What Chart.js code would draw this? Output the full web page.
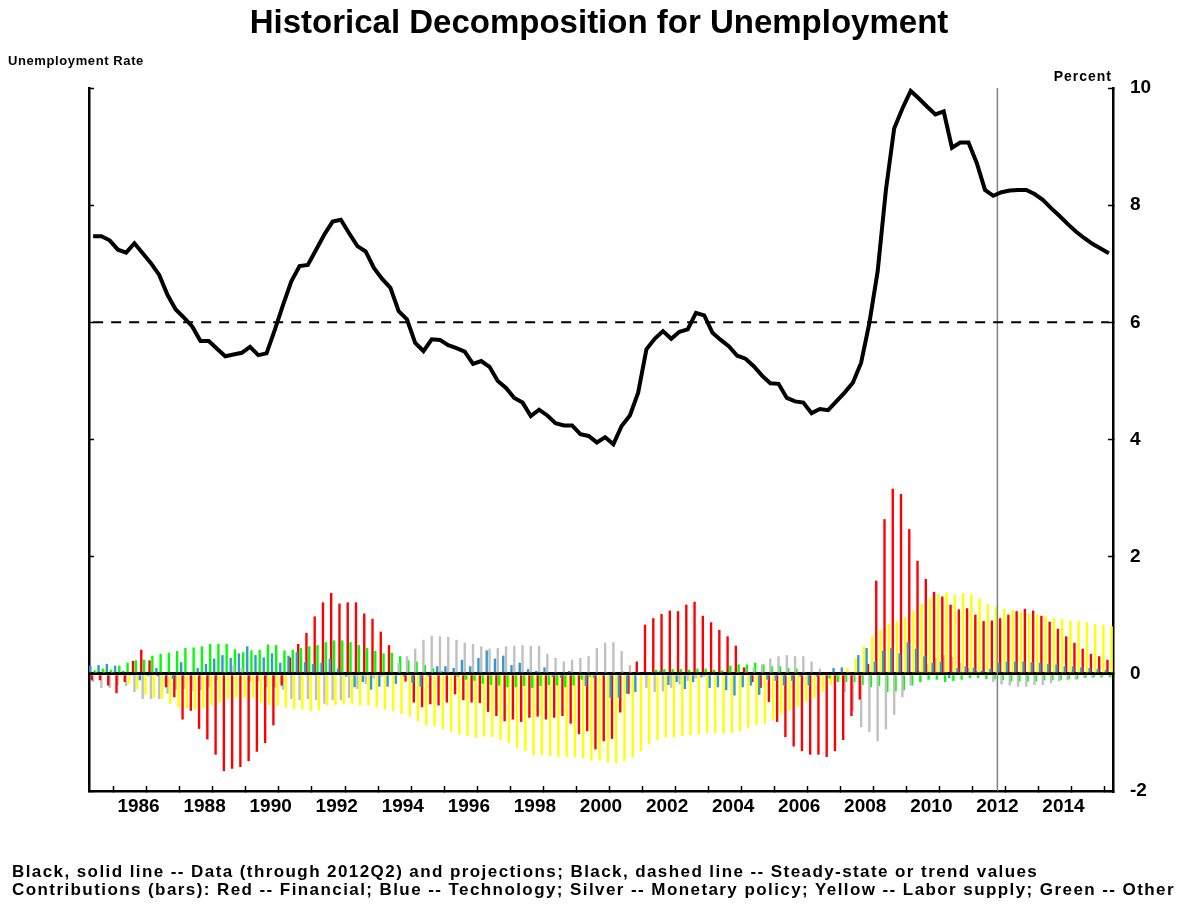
<!DOCTYPE html>
<html>
<head>
<meta charset="utf-8">
<title>Historical Decomposition for Unemployment</title>
<script src="https://cdn.jsdelivr.net/npm/chart.js@4.4.1/dist/chart.umd.min.js"></script>
<style>
  body { margin: 0; background: #fff; }
  #wrap { position: relative; width: 1190px; height: 904px; font-family: "Liberation Sans", Arial, sans-serif; font-weight: bold; color: #000; }
  .note { position: absolute; white-space: nowrap; line-height: 1; }
</style>
</head>
<body>
<div id="wrap">
  <canvas id="chart" width="1190" height="904"></canvas>
  <div class="note" style="left:8px; top:54px; font-size:13px; letter-spacing:0.6px;">Unemployment Rate</div>
  <div class="note" style="right:78px; top:69px; font-size:14px; letter-spacing:1px;">Percent</div>
  <div class="note" style="left:12px; top:863px; font-size:17px; letter-spacing:1.42px;">Black, solid line -- Data (through 2012Q2) and projections; Black, dashed line -- Steady-state or trend values</div>
  <div class="note" style="left:12px; top:881px; font-size:17px; letter-spacing:1.42px;">Contributions (bars): Red -- Financial; Blue -- Technology; Silver -- Monetary policy; Yellow -- Labor supply; Green -- Other</div>
</div>
<script>
// quarterly, 1985Q1 .. 2015Q4
const firstYear = 1985;
const lastYear = 2015;
const dataEnd = '2012Q2';
const steadyState = 6.0;
const yTicks = [-2, 0, 2, 4, 6, 8, 10];

// unemployment rate, data + projection
const unemployment = [
  7.47, 7.47, 7.40, 7.24, 7.19, 7.35, 7.18, 7.01, 6.81, 6.47,
  6.22, 6.08, 5.93, 5.68, 5.68, 5.55, 5.42, 5.45, 5.48, 5.58,
  5.44, 5.47, 5.87, 6.30, 6.70, 6.96, 6.98, 7.24, 7.50, 7.72,
  7.75, 7.52, 7.30, 7.21, 6.93, 6.74, 6.59, 6.19, 6.05, 5.65,
  5.51, 5.71, 5.70, 5.61, 5.56, 5.50, 5.29, 5.34, 5.24, 5.00,
  4.88, 4.71, 4.63, 4.40, 4.51, 4.41, 4.28, 4.24, 4.24, 4.09,
  4.06, 3.95, 4.04, 3.92, 4.23, 4.41, 4.80, 5.54, 5.72, 5.85,
  5.72, 5.84, 5.88, 6.16, 6.12, 5.82, 5.70, 5.59, 5.43, 5.38,
  5.25, 5.09, 4.96, 4.95, 4.71, 4.65, 4.63, 4.45, 4.52, 4.50,
  4.65, 4.80, 4.97, 5.31, 5.99, 6.87, 8.26, 9.31, 9.65, 9.95,
  9.82, 9.68, 9.55, 9.60, 8.98, 9.07, 9.07, 8.72, 8.26, 8.16,
  8.22, 8.25, 8.26, 8.26, 8.19, 8.09, 7.95, 7.82, 7.68, 7.55,
  7.44, 7.34, 7.26, 7.18
];

// contributions (bars)
const financial = [
  -0.11, -0.11, -0.20, -0.33, -0.14, 0.22, 0.41, 0.23, -0.04, -0.23,
  -0.40, -0.78, -0.63, -0.94, -1.12, -1.38, -1.66, -1.62, -1.59, -1.49,
  -1.33, -1.18, -0.88, -0.20, 0.28, 0.51, 0.70, 0.98, 1.22, 1.38,
  1.20, 1.22, 1.22, 1.03, 0.94, 0.72, 0.49, 0.03, -0.13, -0.49,
  -0.57, -0.52, -0.54, -0.49, -0.35, -0.45, -0.49, -0.50, -0.65, -0.72,
  -0.81, -0.78, -0.82, -0.75, -0.73, -0.78, -0.75, -0.72, -0.85, -1.03,
  -0.98, -1.29, -1.15, -1.11, -0.66, -0.34, 0.21, 0.84, 0.95, 1.02,
  1.08, 1.07, 1.18, 1.23, 0.99, 0.88, 0.75, 0.64, 0.48, 0.11,
  -0.14, -0.24, -0.48, -0.82, -1.08, -1.24, -1.32, -1.38, -1.38, -1.42,
  -1.32, -1.13, -0.72, -0.44, 0.17, 1.59, 2.64, 3.16, 3.07, 2.47,
  1.93, 1.62, 1.40, 1.32, 1.18, 1.10, 1.12, 1.01, 0.90, 0.91,
  0.95, 1.01, 1.07, 1.11, 1.08, 0.99, 0.89, 0.77, 0.64, 0.53,
  0.43, 0.34, 0.30, 0.24
];
const technology = [
  0.14, 0.15, 0.17, 0.14, 0.05, -0.03, -0.11, -0.04, 0.10, 0.00,
  -0.09, 0.20, 0.02, 0.10, 0.17, 0.26, 0.32, 0.27, 0.35, 0.47,
  0.32, 0.28, 0.35, 0.19, 0.31, 0.37, 0.20, 0.17, 0.19, 0.26,
  0.09, -0.05, -0.23, -0.14, -0.27, -0.22, -0.22, -0.17, -0.05, -0.15,
  -0.22, -0.05, 0.13, 0.13, 0.10, 0.24, 0.13, 0.27, 0.40, 0.26,
  0.31, 0.15, 0.19, 0.08, 0.05, 0.11, -0.06, -0.07, 0.05, 0.00,
  -0.21, -0.07, -0.02, -0.41, -0.41, -0.34, -0.31, 0.00, 0.03, 0.05,
  -0.19, -0.14, -0.26, -0.14, -0.06, -0.24, -0.23, -0.28, -0.37, -0.23,
  -0.20, -0.36, -0.10, -0.12, -0.20, -0.12, -0.05, -0.20, -0.05, 0.00,
  0.10, 0.11, 0.03, 0.32, 0.44, 0.21, 0.40, 0.44, 0.35, 0.54,
  0.43, 0.30, 0.19, 0.21, -0.07, 0.10, 0.13, 0.11, 0.06, 0.09,
  0.19, 0.21, 0.21, 0.21, 0.20, 0.19, 0.17, 0.16, 0.13, 0.13,
  0.11, 0.10, 0.09, 0.07
];
const monetary = [
  -0.14, -0.24, -0.24, -0.20, -0.21, -0.31, -0.43, -0.43, -0.43, -0.34,
  -0.27, -0.26, -0.30, -0.28, -0.23, -0.11, 0.03, 0.15, 0.10, -0.14,
  -0.13, -0.23, -0.23, -0.27, -0.43, -0.45, -0.43, -0.45, -0.51, -0.45,
  -0.45, -0.41, -0.26, -0.17, -0.08, -0.05, -0.02, 0.19, 0.30, 0.43,
  0.58, 0.65, 0.64, 0.63, 0.58, 0.53, 0.51, 0.47, 0.43, 0.44,
  0.47, 0.48, 0.49, 0.48, 0.48, 0.34, 0.27, 0.21, 0.24, 0.27,
  0.30, 0.44, 0.53, 0.54, 0.39, 0.15, 0.02, -0.24, -0.31, -0.30,
  -0.24, -0.18, -0.12, -0.08, -0.05, 0.00, 0.02, 0.03, 0.05, 0.08,
  0.11, 0.16, 0.26, 0.30, 0.32, 0.30, 0.30, 0.21, 0.09, 0.00,
  -0.05, -0.31, -0.63, -0.91, -0.99, -1.15, -0.95, -0.70, -0.40, -0.20,
  0.05, 0.17, 0.27, 0.32, 0.29, 0.19, 0.10, 0.05, 0.00, -0.14,
  -0.18, -0.20, -0.22, -0.22, -0.19, -0.19, -0.16, -0.13, -0.11, -0.10,
  -0.07, -0.07, -0.06, -0.04
];
const laborSupply = [
  0.06, 0.07, 0.02, -0.05, -0.17, -0.26, -0.36, -0.41, -0.43, -0.51,
  -0.57, -0.59, -0.61, -0.59, -0.54, -0.49, -0.43, -0.41, -0.41, -0.41,
  -0.49, -0.54, -0.55, -0.58, -0.60, -0.61, -0.64, -0.62, -0.54, -0.53,
  -0.51, -0.51, -0.54, -0.54, -0.57, -0.61, -0.64, -0.68, -0.73, -0.81,
  -0.88, -0.89, -0.94, -0.99, -1.04, -1.06, -1.09, -1.07, -1.08, -1.13,
  -1.18, -1.26, -1.32, -1.39, -1.39, -1.40, -1.42, -1.42, -1.42, -1.44,
  -1.48, -1.48, -1.51, -1.53, -1.49, -1.43, -1.32, -1.20, -1.13, -1.09,
  -1.09, -1.06, -1.05, -1.03, -1.01, -1.02, -1.02, -1.01, -0.98, -0.92,
  -0.88, -0.85, -0.80, -0.70, -0.63, -0.56, -0.47, -0.41, -0.31, -0.19,
  -0.09, 0.10, 0.27, 0.47, 0.64, 0.75, 0.85, 0.90, 0.97, 1.08,
  1.19, 1.29, 1.36, 1.39, 1.35, 1.38, 1.36, 1.29, 1.19, 1.15,
  1.11, 1.09, 1.06, 1.03, 1.01, 0.98, 0.95, 0.94, 0.91, 0.90,
  0.88, 0.85, 0.84, 0.81
];
const other = [
  0.06, 0.09, 0.07, 0.14, 0.19, 0.23, 0.24, 0.31, 0.34, 0.36,
  0.39, 0.44, 0.45, 0.47, 0.51, 0.51, 0.51, 0.42, 0.37, 0.40,
  0.41, 0.50, 0.49, 0.40, 0.41, 0.44, 0.47, 0.49, 0.54, 0.57,
  0.57, 0.54, 0.49, 0.44, 0.39, 0.35, 0.36, 0.30, 0.23, 0.21,
  0.15, 0.10, 0.05, 0.00, -0.05, -0.10, -0.12, -0.17, -0.19, -0.20,
  -0.23, -0.23, -0.21, -0.24, -0.21, -0.19, -0.20, -0.23, -0.20, -0.10,
  -0.05, 0.00, 0.03, 0.03, 0.04, 0.02, 0.00, 0.03, 0.07, 0.08,
  0.08, 0.08, 0.07, 0.09, 0.09, 0.07, 0.06, 0.14, 0.16, 0.16,
  0.19, 0.16, 0.13, 0.13, 0.10, 0.09, 0.03, 0.00, -0.03, -0.08,
  -0.14, -0.14, -0.14, -0.19, -0.23, -0.21, -0.31, -0.30, -0.28, -0.20,
  -0.14, -0.10, -0.10, -0.14, -0.12, -0.10, -0.07, -0.07, -0.09, -0.09,
  -0.11, -0.13, -0.13, -0.13, -0.13, -0.11, -0.11, -0.10, -0.09, -0.09,
  -0.07, -0.06, -0.06, -0.06
];

// quarter mid points on a year axis
const quarterPos = [];
for (let y = firstYear; y <= lastYear; y++) {
  for (let q = 0; q < 4; q++) quarterPos.push(y + (q + 0.5) / 4);
}
const toPoints = vals => vals.map((v, i) => ({ x: quarterPos[i], y: v }));
const endParts = dataEnd.split('Q').map(Number);
const dataEndX = endParts[0] + endParts[1] / 4;

const font = { family: '"Liberation Sans", Arial, sans-serif', weight: 'bold' };

const barSet = (label, vals, color) => ({
  type: 'bar',
  label: label,
  data: toPoints(vals),
  backgroundColor: color,
  borderWidth: 0,
  categoryPercentage: 0.85,
  barPercentage: 1.7,
  yAxisID: 'y'
});

const chart = new Chart(document.getElementById('chart'), {
  data: {
    datasets: [
      {
        type: 'line', label: 'Unemployment rate', data: toPoints(unemployment),
        borderColor: '#000', borderWidth: 4, pointRadius: 0, tension: 0, yAxisID: 'y'
      },
      {
        type: 'line', label: 'Steady state',
        data: [{ x: quarterPos[0], y: steadyState }, { x: quarterPos[quarterPos.length - 1], y: steadyState }],
        borderColor: '#000', borderWidth: 2, borderDash: [10, 8], pointRadius: 0, yAxisID: 'y'
      },
      {
        type: 'line', label: 'Data end',
        data: [{ x: dataEndX, y: yTicks[0] }, { x: dataEndX, y: yTicks[yTicks.length - 1] }],
        borderColor: '#808080', borderWidth: 1.5, pointRadius: 0, yAxisID: 'y'
      },
      barSet('Technology', technology, '#3399cc'),
      barSet('Financial', financial, '#ff0000'),
      barSet('Monetary policy', monetary, '#c0c0c0'),
      barSet('Other', other, '#00ff00'),
      barSet('Labor supply', laborSupply, '#ffff00')
    ]
  },
  options: {
    responsive: false,
    animation: false,
    devicePixelRatio: 1,
    layout: { padding: { left: 8, right: 0, top: 0, bottom: 0 } },
    plugins: {
      legend: { display: false },
      tooltip: { enabled: false },
      title: {
        display: true,
        text: 'Historical Decomposition for Unemployment',
        color: '#000',
        font: { ...font, size: 33, lineHeight: 1.2 },
        padding: { top: 4.6, bottom: 43.8 }
      }
    },
    scales: {
      x: {
        type: 'linear',
        min: firstYear,
        max: lastYear + 1,
        offset: false,
        afterBuildTicks: s => {
          const t = [];
          for (let y = firstYear; y <= lastYear + 1; y++) {
            t.push({ value: y });
            if (y <= lastYear) t.push({ value: y + 0.5 });
          }
          s.ticks = t;
        },
        ticks: {
          autoSkip: false, maxRotation: 0, padding: 9, color: '#000',
          font: { ...font, size: 19 },
          callback: v => (v % 1 !== 0 && Math.floor(v) % 2 === 0) ? String(Math.floor(v)) : ''
        },
        grid: {
          drawOnChartArea: false, tickLength: -5, tickWidth: 1.5,
          tickColor: ctx => (ctx.tick && Number.isInteger(ctx.tick.value)) ? '#000' : 'rgba(0,0,0,0)'
        },
        border: { color: '#000', width: 2.5 },
        afterFit: s => { s.height = 113; }
      },
      yl: {
        position: 'left', min: -2, max: 10,
        ticks: { display: false, stepSize: 2 },
        grid: { drawOnChartArea: false, tickLength: -5, tickWidth: 1.5, tickColor: '#000' },
        border: { color: '#000', width: 2.5 },
        afterFit: s => { s.width = 81; }
      },
      y: {
        position: 'right', min: -2, max: 10, z: 1,
        ticks: { stepSize: 2, padding: 22, color: '#000', font: { ...font, size: 19 } },
        grid: {
          color: ctx => (ctx.tick && ctx.tick.value === 0) ? '#000' : 'rgba(0,0,0,0)',
          lineWidth: 3, tickLength: -5, tickWidth: 1.5, tickColor: '#000'
        },
        border: { color: '#000', width: 2.5 },
        afterFit: s => { s.width = 77; }
      }
    }
  }
});
</script>
</body>
</html>
